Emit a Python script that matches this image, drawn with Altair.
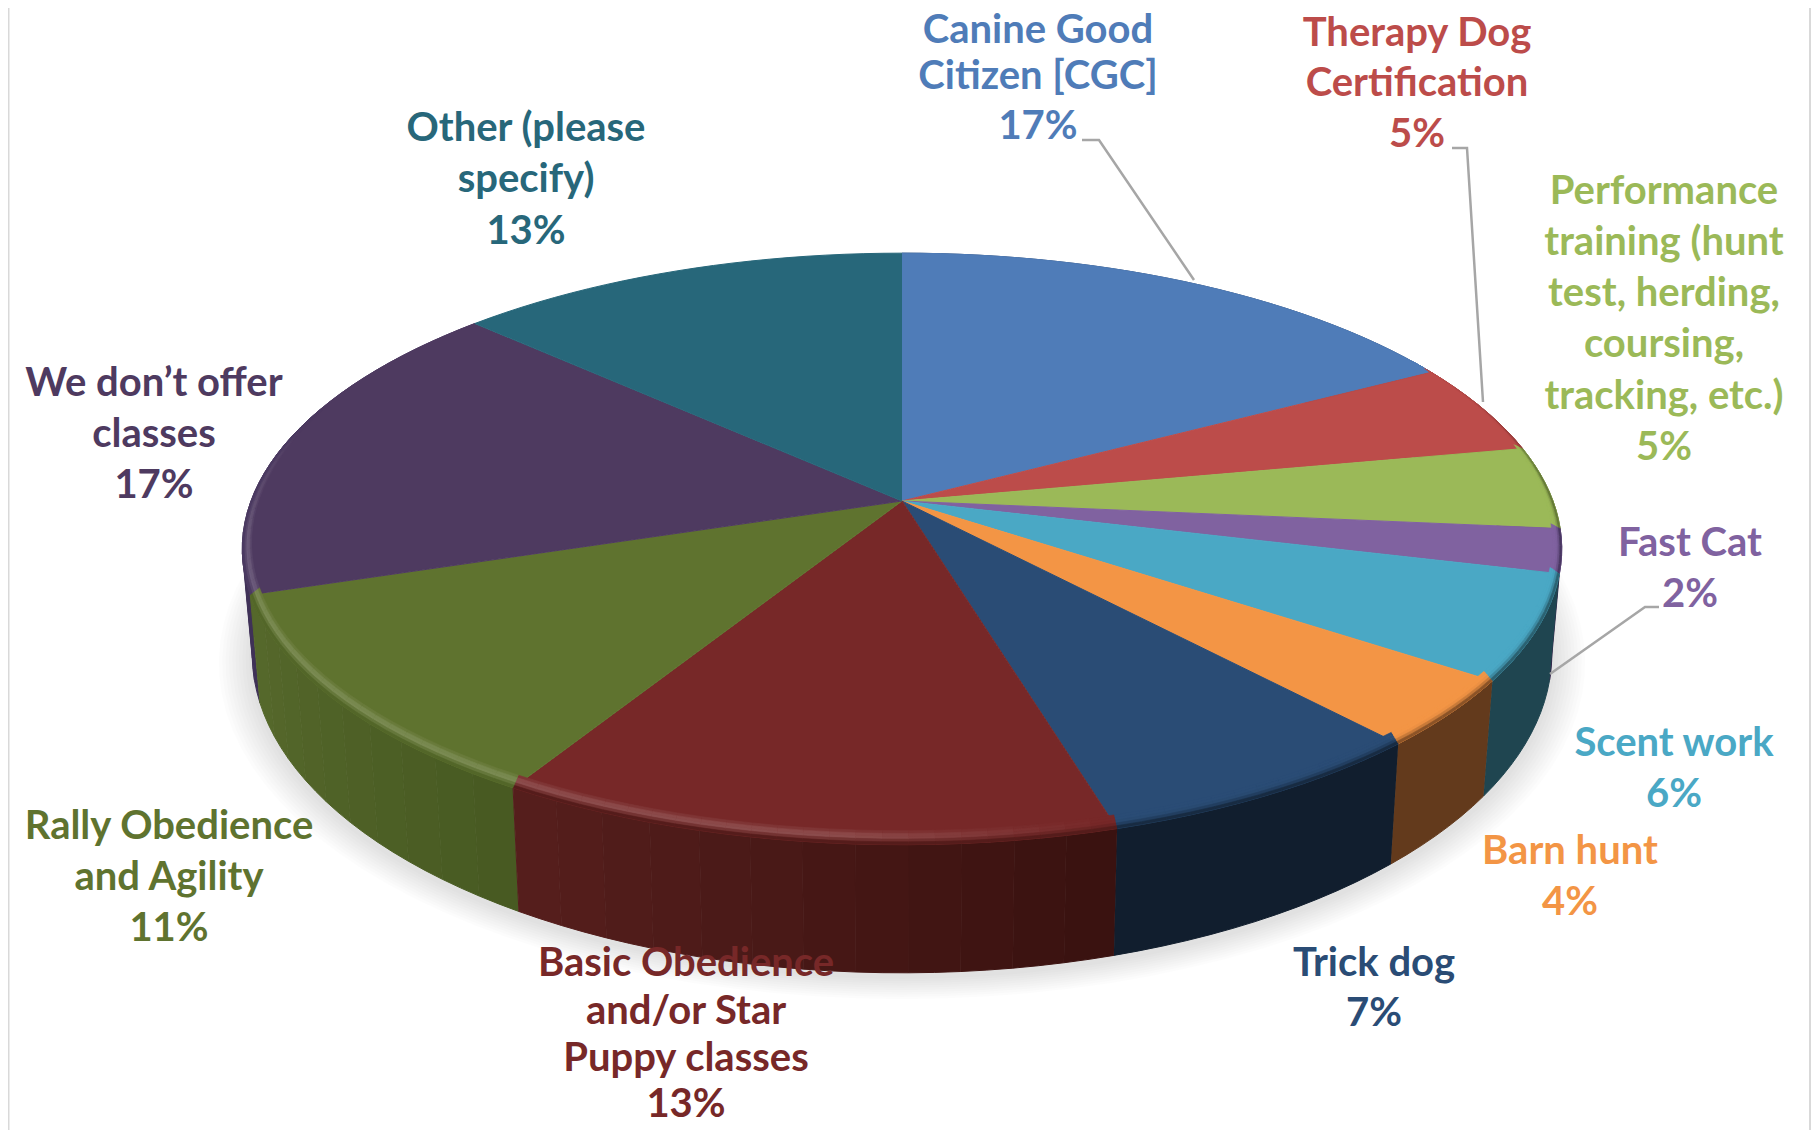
import math
import altair as alt

alt.data_transformers.disable_max_rows()

# ---- chart values -------------------------------------------------------
categories = ["Canine Good Citizen [CGC]", "Therapy Dog Certification",
              "Performance training", "Fast Cat", "Scent work", "Barn hunt",
              "Trick dog", "Basic Obedience and/or Star Puppy classes",
              "Rally Obedience and Agility", "We don’t offer classes", "Other"]
shares = [17.0, 5.0, 4.5, 2.4, 5.7, 3.7, 7.2, 13.1, 11.4, 17.0, 13.0]
top_colors = ["#4f7cb8", "#bc4c4a", "#9bb958", "#8062a0", "#4aa8c5", "#f39545",
              "#2a4c75", "#772828", "#5f732f", "#4e3a60", "#27677a"]
wall_from = ["#2f4a70", "#702d2c", "#4f5f2a", "#33264a", "#1f4550", "#633a1c",
             "#111e2e", "#3a1210", "#485a22", "#3f3157", "#173e4a"]
wall_to = ["#2f4a70", "#702d2c", "#4f5f2a", "#33264a", "#1f4550", "#633a1c",
           "#111e2e", "#551e1c", "#55682b", "#55426f", "#173e4a"]

label_lines = [
    ["Canine Good", "Citizen [CGC]", "17%"],
    ["Therapy Dog", "Certification", "5%"],
    ["Performance", "training (hunt", "test, herding,", "coursing,", "tracking, etc.)", "5%"],
    ["Fast Cat", "2%"],
    ["Scent work", "6%"],
    ["Barn hunt", "4%"],
    ["Trick dog", "7%"],
    ["Basic Obedience", "and/or Star", "Puppy classes", "13%"],
    ["Rally Obedience", "and Agility", "11%"],
    ["We don’t offer", "classes", "17%"],
    ["Other (please", "specify)", "13%"],
]
label_x = [1038, 1417, 1664, 1690, 1674, 1570, 1374, 686, 169, 154, 526]
label_y = [
    [31, 77, 127], [34, 84, 135], [192, 243, 294, 345, 397, 448], [544, 595],
    [744, 795], [852, 903], [964, 1014], [964, 1012, 1059, 1105],
    [827, 878, 929], [384, 435, 486], [129, 180, 232],
]
leaders = [
    [(1082, 140), (1099, 140), (1194, 280)],
    [(1452, 148), (1467, 148), (1483, 402)],
    [(1659, 607), (1645, 607), (1550, 674)],
]

# ---- pie geometry ---------------------------------------------------------
CX, CY, A, B, K = 902.0, 501.0, 288.0, 651.0, 0.162
W, H = 1803, 1122


def top(theta, r=1.0):
    u, v = r * math.sin(theta), -r * math.cos(theta)
    w = 1 - K * v
    return CX + B * u / w, CY + A * v / w


def inner(theta, f):
    x, y = top(theta)
    v = -math.cos(theta)
    return x - (x - CX) * 0.014 * f, y - 14 * f * (0.3 + 0.7 * max(0.0, v))


def bottom(theta, r=1.0):
    x, y = top(theta, r)
    return CX + 0.985 * (x - CX), y + 101 + 0.079 * (y - CY)


def mix(a, b, t):
    t = max(0.0, min(1.0, t))
    ca = [int(a[i:i + 2], 16) for i in (1, 3, 5)]
    cb = [int(b[i:i + 2], 16) for i in (1, 3, 5)]
    return "#%02x%02x%02x" % tuple(round(p + (q - p) * t) for p, q in zip(ca, cb))


def ramp(x, a, b):
    return max(0.0, min(1.0, (x - a) / (b - a)))


starts = []
acc = 0.0
for s in shares:
    starts.append(acc)
    acc += s

wall_rows, top_rows, band_rows, shadow_rows = [], [], [], []
pid = 0


def poly(rows, pts, color):
    global pid
    pid += 1
    for i, (x, y) in enumerate(pts):
        rows.append({"x": round(x, 2), "y": round(y, 2), "i": i, "id": pid, "c": color})


BAND_F = [1.0, 0.8, 0.6, 0.4, 0.2, 0.0]
LIGHT = [0.06, 0.15, 0.18, 0.1, 0.0]
DARK = [0.0, 0.0, 0.05, 0.3, 0.72]
wall_parts = []
for k, s in enumerate(shares):
    a0 = starts[k] * 2 * math.pi / 100
    a1 = (starts[k] + s) * 2 * math.pi / 100
    n = max(2, math.ceil(math.degrees(a1 - a0) / 2))
    ths = [a0 + (a1 - a0) * j / n for j in range(n + 1)]
    poly(top_rows, [(CX, CY)] + [top(t) for t in ths], top_colors[k])
    # side wall: one piece for a flat colour, strips for a shaded one
    if math.degrees(a1) > 60 and math.degrees(a0) < 300:
        strips = 1 if wall_from[k] == wall_to[k] else max(2, n // 2)
        for q in range(strips):
            lo, hi = q * n // strips, (q + 1) * n // strips
            seg = ths[lo:hi + 1]
            colr = mix(wall_from[k], wall_to[k], q / max(1, strips - 1))
            wall_parts.append((-math.cos((seg[0] + seg[-1]) / 2),
                               [top(t) for t in seg] + [bottom(t) for t in reversed(seg)],
                               colr))
    for j in range(n):
        t0, t1 = ths[j], ths[j + 1]
        deg = math.degrees((t0 + t1) / 2)
        if 60 < deg < 290:
            light = ramp(deg, 165, 185) * (1 - ramp(deg, 262, 285))
            dark = ramp(deg, 60, 85)
            for b in range(5):
                c = mix(top_colors[k], "#ffffff", LIGHT[b] * light)
                c = mix(c, mix(wall_from[k], wall_to[k], 0.5), DARK[b] * dark)
                f0, f1 = BAND_F[b], BAND_F[b + 1]
                poly(band_rows, [inner(t0, f0), inner(t1, f0), inner(t1, f1), inner(t0, f1)], c)

for _, pts, c in sorted(wall_parts, key=lambda q: q[0]):
    poly(wall_rows, pts, c)

for e in range(10):
    r = 1.0 + 0.005 * (e + 1)
    poly(shadow_rows,
         [(bottom(2 * math.pi * j / 120, r)[0], bottom(2 * math.pi * j / 120, r)[1] + 4)
          for j in range(120)], "#000000")

# ---- text and leader rows ---------------------------------------------------
text_rows = []
for k, lines in enumerate(label_lines):
    for line, y in zip(lines, label_y[k]):
        text_rows.append({"x": label_x[k], "y": y, "t": line, "c": top_colors[k]})

leader_rows = []
for n, pts in enumerate(leaders):
    for i, (x, y) in enumerate(pts):
        leader_rows.append({"x": x, "y": y, "i": i, "id": n})

# ---- chart --------------------------------------------------------------------
XS = alt.Scale(domain=[8, 8 + W], nice=False, zero=False)
X = alt.X("x:Q", scale=XS, axis=None)
Y = alt.Y("y:Q", scale=alt.Scale(domain=[8 + H, 8], nice=False, zero=False), axis=None)


def polys(rows, sw=1.0):
    return alt.Chart(alt.Data(values=rows)).mark_line(strokeWidth=sw, strokeJoin="round").encode(
        x=X, y=Y, order=alt.Order("i:Q"), detail="id:N",
        fill=alt.Fill("c:N", scale=None), stroke=alt.Stroke("c:N", scale=None))


edge = alt.Chart(alt.Data(values=[{"a": 8.5}, {"a": 1810}])).mark_rule(color="#d9d9d9", strokeWidth=2).encode(
    x=alt.X("a:Q", scale=XS, axis=None))

shadow = alt.Chart(alt.Data(values=shadow_rows)).mark_line(
    fill="#000000", fillOpacity=0.012, strokeWidth=0, stroke="transparent"
).encode(x=X, y=Y, order=alt.Order("i:Q"), detail="id:N")

leader = alt.Chart(alt.Data(values=leader_rows)).mark_line(color="#a6a6a6", strokeWidth=2.5).encode(
    x=X, y=Y, order=alt.Order("i:Q"), detail="id:N")

labels = alt.Chart(alt.Data(values=text_rows)).mark_text(
    font="Lato", fontWeight="bold", fontSize=40, baseline="middle", align="center"
).encode(x=X, y=Y, text="t:N", color=alt.Color("c:N", scale=None))

chart = alt.layer(edge, shadow, polys(wall_rows), polys(top_rows), polys(band_rows, 0.6),
                  leader, labels).properties(
    width=W, height=H, padding=0,
    autosize=alt.AutoSizeParams(type="none"),
    background="#ffffff",
).configure_view(stroke=None)

chart.save("out.html", embed_options={"renderer": "svg", "actions": False})
